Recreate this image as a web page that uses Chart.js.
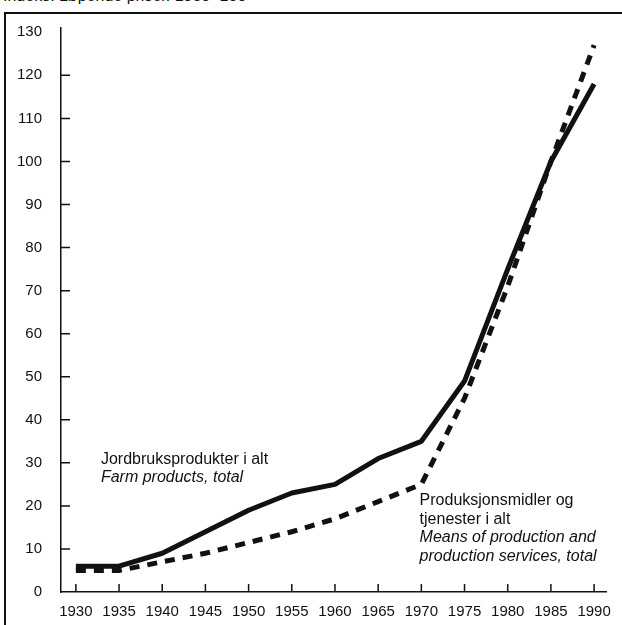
<!DOCTYPE html>
<html>
<head>
<meta charset="utf-8">
<script src="https://cdn.jsdelivr.net/npm/chart.js@4.4.1/dist/chart.umd.min.js"></script>
<style>
  html, body { margin: 0; padding: 0; background: #fff; overflow: hidden; }
  #wrap { position: relative; width: 622px; height: 625px; }
  #title { position: absolute; left: 3px; top: -13px; font: 16px 'Liberation Sans', Arial, sans-serif; color: #111; white-space: nowrap; }
  #frame { position: absolute; left: 4px; top: 12px; width: 640px; height: 640px; border-left: 2px solid #111; border-top: 2px solid #111; }
  canvas { position: absolute; left: 0; top: 0; }
</style>
</head>
<body>
<div id="wrap">
  <div id="title">Indeks. Løpende priser. 1985=100</div>
  <div id="frame"></div>
  <canvas id="chart" width="622" height="625"></canvas>
</div>
<script>
/* Jordbruk: prisindekser, 1930-1990 (1985 = 100) */
const YEARS = [1930, 1935, 1940, 1945, 1950, 1955, 1960, 1965, 1970, 1975, 1980, 1985, 1990];
const FARM_PRODUCTS = [6, 6, 9, 14, 19, 23, 25, 31, 35, 49, 75, 100, 118];
const MEANS_OF_PRODUCTION = [5, 5, 7, 9, 11.5, 14, 17, 21, 25, 45, 71, 100, 127];
const Y_TICKS = [0, 10, 20, 30, 40, 50, 60, 70, 80, 90, 100, 110, 120, 130];

const FARM_LABEL = ['Jordbruksprodukter i alt', 'Farm products, total'];
const MEANS_LABEL = ['Produksjonsmidler og', 'tjenester i alt', 'Means of production and', 'production services, total'];

const INK = '#111';
const FONT = "'Liberation Sans', Arial, sans-serif";

/* inward tick marks, as in the printed original */
const innerTicks = {
  id: 'innerTicks',
  afterDraw(chart) {
    const { ctx, scales: { x, y } } = chart;
    ctx.save();
    ctx.strokeStyle = INK;
    ctx.lineWidth = 1.5;
    ctx.beginPath();
    Y_TICKS.forEach((v) => {
      if (v === 0 || v === 130) return;
      const py = y.getPixelForValue(v);
      ctx.moveTo(x.left, py);
      ctx.lineTo(x.left + 9, py);
    });
    YEARS.forEach((yr) => {
      const px = x.getPixelForValue(yr);
      ctx.moveTo(px, y.bottom);
      ctx.lineTo(px, y.bottom - 8);
    });
    ctx.stroke();
    ctx.restore();
  },
};

/* series captions, anchored in data units */
const captions = {
  id: 'captions',
  afterDraw(chart) {
    const { ctx, scales: { x, y } } = chart;
    ctx.save();
    ctx.fillStyle = INK;
    ctx.textAlign = 'left';
    ctx.textBaseline = 'alphabetic';
    const put = (lines, xv, yv, italicFrom) => {
      const px = x.getPixelForValue(xv);
      const py = y.getPixelForValue(yv);
      lines.forEach((t, i) => {
        ctx.font = (i >= italicFrom ? 'italic ' : '') + '16px ' + FONT;
        ctx.fillText(t, px, py + i * 18.5);
      });
    };
    put(FARM_LABEL, 1932.9, 29.8, 1);
    put(MEANS_LABEL, 1969.8, 20.2, 2);
    ctx.restore();
  },
};

new Chart(document.getElementById('chart'), {
  type: 'line',
  data: {
    datasets: [
      {
        label: 'Jordbruksprodukter i alt',
        data: YEARS.map((yr, i) => ({ x: yr, y: FARM_PRODUCTS[i] })),
        borderColor: INK,
        borderWidth: 5,
        pointRadius: 0,
        tension: 0,
        borderJoinStyle: 'round',
      },
      {
        label: 'Produksjonsmidler og tjenester i alt',
        data: YEARS.map((yr, i) => ({ x: yr, y: MEANS_OF_PRODUCTION[i] })),
        borderColor: INK,
        borderWidth: 5,
        borderDash: [10, 8],
        pointRadius: 0,
        tension: 0,
      },
    ],
  },
  options: {
    responsive: false,
    animation: false,
    layout: { padding: { top: 27, right: 10, left: 0, bottom: 0 } },
    plugins: { legend: { display: false }, tooltip: { enabled: false } },
    scales: {
      x: {
        type: 'linear',
        min: 1928.28,
        max: 1991.4,
        afterBuildTicks: (s) => { s.ticks = YEARS.map((v) => ({ value: v })); },
        afterFit: (s) => { s.height = 33; },
        grid: { display: false, drawTicks: false },
        border: { display: true, color: INK, width: 1.5 },
        ticks: {
          color: INK,
          padding: 11,
          maxRotation: 0,
          autoSkip: false,
          font: { family: FONT, size: 15 },
          callback: (v) => String(v),
        },
      },
      y: {
        min: 0,
        max: 131,
        afterBuildTicks: (s) => { s.ticks = Y_TICKS.map((v) => ({ value: v })); },
        afterFit: (s) => { s.width = 61; },
        grid: { display: false, drawTicks: false },
        border: { display: true, color: INK, width: 1.5 },
        ticks: {
          color: INK,
          padding: 19,
          font: { family: FONT, size: 15 },
        },
      },
    },
  },
  plugins: [innerTicks, captions],
});
</script>
</body>
</html>
